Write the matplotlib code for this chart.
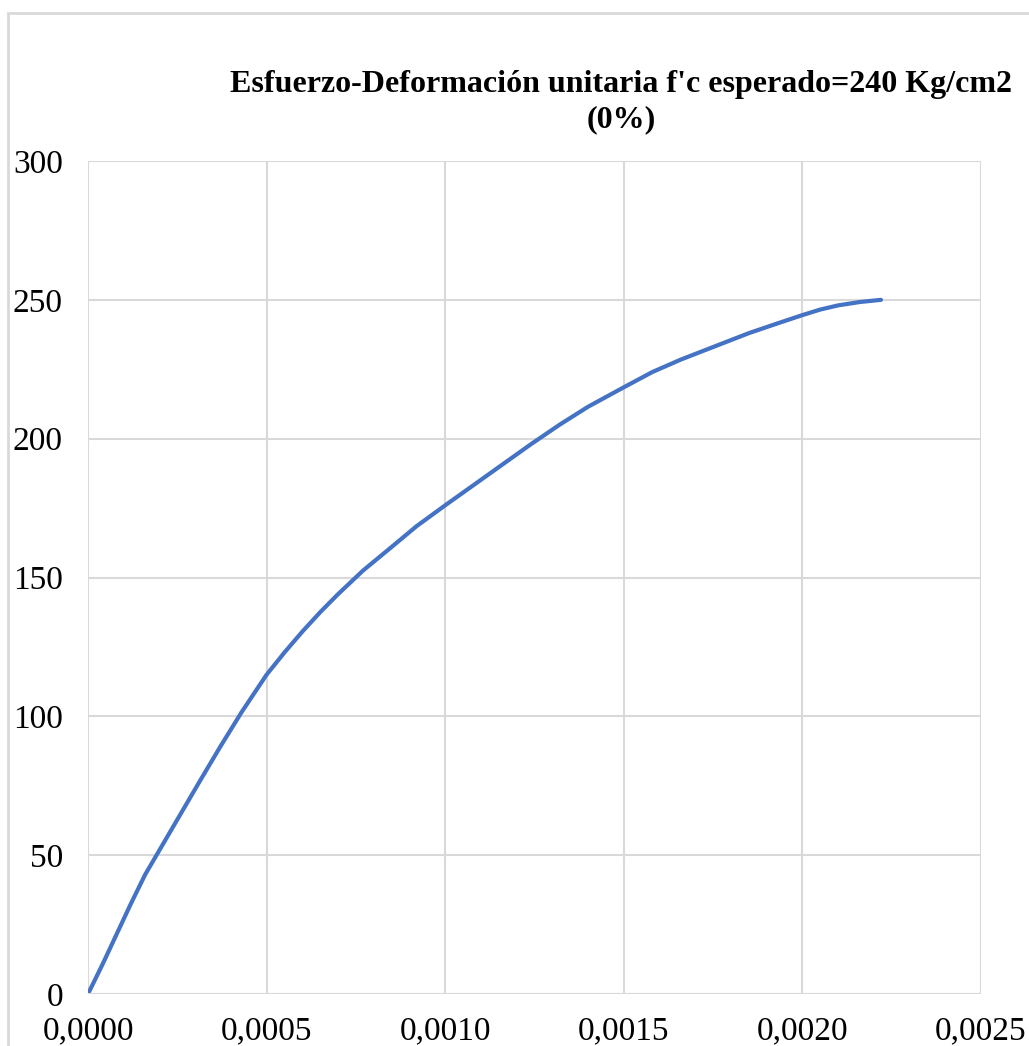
import matplotlib.pyplot as plt
from matplotlib.patches import Rectangle
from matplotlib.ticker import FuncFormatter

# Curva esfuerzo-deformación
strain = [0.0, 0.00004, 0.00008, 0.00012, 0.00016, 0.00021, 0.00026, 0.00031,
          0.00037, 0.00043, 0.00050, 0.00055, 0.00060, 0.00065, 0.00070,
          0.00077, 0.00085, 0.00092, 0.00100, 0.00112, 0.00124, 0.00132,
          0.00140, 0.00150, 0.00158, 0.00166, 0.00175, 0.00185, 0.00193,
          0.00200, 0.00205, 0.00210, 0.00216, 0.00222]
stress = [0.0, 10.5, 21.5, 32.5, 43, 54, 65, 76, 89, 101.5, 115, 123, 130.5,
          137.5, 144, 152.5, 161, 168.5, 176, 187, 198, 205, 211.5, 218.5,
          224, 228.5, 233, 238, 241.5, 244.5, 246.5, 248, 249.2, 250]

xticks = [0.0, 0.0005, 0.0010, 0.0015, 0.0020, 0.0025]
yticks = [0, 50, 100, 150, 200, 250, 300]

plt.rcParams['font.family'] = ['Liberation Serif', 'DejaVu Serif']

fig = plt.figure(figsize=(10.29, 10.46), dpi=100)
ax = fig.add_axes([88/1029, 52/1046, 893/1029, 833/1046])

ax.plot(strain, stress, color='#4472C4', lw=3, solid_capstyle='round',
        solid_joinstyle='round')

ax.set_xlim(0, 0.0025)
ax.set_ylim(0, 300)
ax.set_xticks(xticks)
ax.set_yticks(yticks)
ax.xaxis.set_major_formatter(FuncFormatter(lambda v, p: f"{v:.4f}".replace('.', ',')))
ax.tick_params(length=0, labelsize=24)
ax.tick_params(axis='y', pad=18)
ax.tick_params(axis='x', pad=16)
ax.grid(True, color='#d9d9d9', lw=1.5)
for s in ax.spines.values():
    s.set_visible(False)
ax.axhline(0, color='#d9d9d9', lw=1.5)

fig.text(621/1029, 1 - 102/1046, "Esfuerzo-Deformación unitaria f'c esperado=240 Kg/cm2\n(0%)",
         ha='center', va='center', fontsize=23, fontweight='bold', linespacing=1.3)

fig.patches.append(Rectangle((8/1029, -0.05), 1.1, 1 - 13/1046 + 0.05,
                             transform=fig.transFigure, fill=False,
                             edgecolor='#d9d9d9', lw=2))

fig.savefig('out.png', dpi=100)
